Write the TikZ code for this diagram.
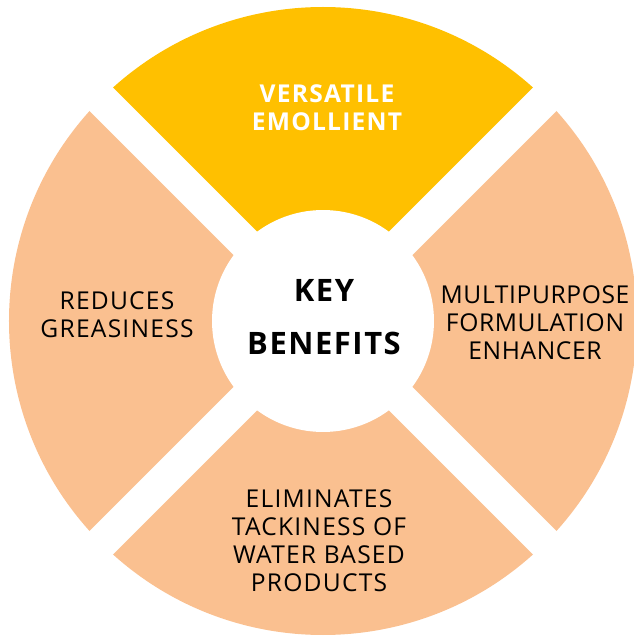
\documentclass[tikz,border=0pt]{standalone}
\usepackage{fontspec}
\setmainfont{Open Sans}[LetterSpace=5]
\usepackage{tikz}

\definecolor{gold}{HTML}{FFC000}
\definecolor{peach}{HTML}{FAC090}

\tikzset{
  benefit/.style={align=center,text=black,font=\fontsize{14}{16}\selectfont},
  gapbar/.style={white,line width=0.66cm}
}

\begin{document}
\begin{tikzpicture}[x=0.02cm,y=0.02cm]
      \useasboundingbox (-323,-315) rectangle (310,321);
      % the four wedges
      \fill[gold] (0,0) -- (45:314) arc[start angle=45,end angle=135,radius=314] -- cycle;
      \fill[peach] (0,0) -- (135:314) arc[start angle=135,end angle=225,radius=314] -- cycle;
      \fill[peach] (0,0) -- (225:314) arc[start angle=225,end angle=315,radius=314] -- cycle;
      \fill[peach] (0,0) -- (-45:314) arc[start angle=-45,end angle=45,radius=314] -- cycle;
      \draw[gapbar] (135:340) -- (-45:340);
      \draw[gapbar] (45:340) -- (-135:340);
      \node[circle,fill=white,minimum size=4.44cm,inner sep=0pt] (hub) at (0,0) {};
      \node[font=\bfseries\fontsize{17.6}{30}\selectfont,align=center] (key) at (1,4) {KEY\\BENEFITS};
      \node[benefit,text=white,font=\bfseries\fontsize{14}{16}\selectfont] (top) at (4,213) {VERSATILE\\EMOLLIENT};
      \node[benefit] (left) at (-206,6) {REDUCES\\GREASINESS};
      \node[benefit,font=\fontsize{14}{16}\selectfont\addfontfeatures{LetterSpace=2.5}] (right) at (212,-2) {MULTIPURPOSE\\FORMULATION\\ENHANCER};
      \node[benefit] (bottom) at (-4,-220) {ELIMINATES\\TACKINESS OF\\WATER BASED\\PRODUCTS};
    \end{tikzpicture}
\end{document}
